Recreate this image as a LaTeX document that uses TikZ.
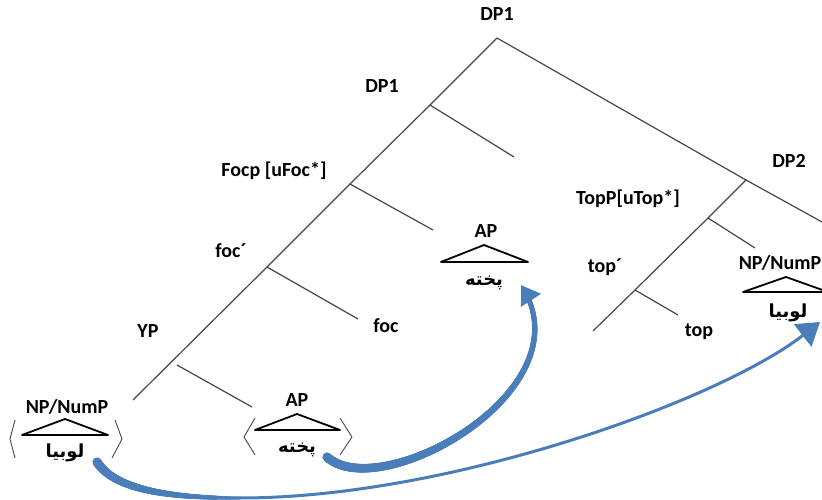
\documentclass[tikz,border=0pt]{standalone}
\usepackage{fontspec}
\setmainfont{Carlito}
\newfontfamily\farsi[Script=Arabic]{DejaVu Sans}
\TeXXeTstate=1
\usetikzlibrary{arrows.meta,decorations.markings}
\definecolor{movblue}{RGB}{74,126,187}
\definecolor{treegray}{RGB}{70,70,70}
\newcommand{\fw}[1]{{\farsi\bfseries\beginR #1\endR}}
\tikzset{taper/.style n args={3}{postaction={decorate,decoration={markings,
  mark=between positions 0 and #3 step 0.5bp with {%
  \pgfmathsetmacro\taprad{#1+(#2-#1)*\pgfkeysvalueof{/pgf/decoration/mark info/distance from start}/(#3*\pgfdecoratedpathlength)}%
  \fill[movblue] (0,0) circle[radius=\taprad bp];}}}},
  headtip/.style 2 args={postaction={decorate,decoration={markings,
  mark=at position 0.999 with {\fill[movblue] (0,0) -- (-#2,#1) -- (-#2,-#1) -- cycle;}}}}}

\begin{document}
\begin{tikzpicture}[line join=round]
 \tikzstyle{cat}=[font=\fontsize{20bp}{24bp}\selectfont\bfseries,inner sep=0pt,text height=13bp,text depth=4bp]
 \tikzstyle{word}=[font=\fontsize{18bp}{20bp}\selectfont,inner sep=0pt]
 \tikzstyle{branch}=[draw=treegray,line width=1.2bp]
 \tikzstyle{tri}=[draw=black,line width=1.8bp]
 \tikzstyle{brk}=[draw=treegray,line width=0.9bp]
 \tikzstyle{movement}=[draw=movblue]
 \clip (0,0) rectangle (822bp,500bp);

 % junctions of the tree
 \coordinate (root) at (497bp,462bp);
 \coordinate (redge) at (822bp,278bp);
 \coordinate (jdp) at (430bp,395bp);
 \coordinate (jdpe) at (514bp,343bp);
 \coordinate (jfoc) at (350bp,316bp);
 \coordinate (jfoce) at (433bp,270bp);
 \coordinate (jfbar) at (267bp,233bp);
 \coordinate (jfbare) at (358bp,181bp);
 \coordinate (jyp) at (177bp,135bp);
 \coordinate (jype) at (252bp,93bp);
 \coordinate (spinebot) at (133bp,100bp);
 \coordinate (dptwo) at (746bp,320bp);
 \coordinate (jtop) at (708bp,282bp);
 \coordinate (jtope) at (755bp,252bp);
 \coordinate (jtbar) at (635bp,210bp);
 \coordinate (jtbare) at (678bp,185bp);
 \coordinate (rbot) at (593bp,169bp);
 \coordinate (low) at (240bp,2bp);

 \node (DPa) at (497bp,484bp) [cat] {DP1};
 \node (DPb) at (382bp,412bp) [cat] {DP1};
 \node (FocP) at (274bp,328bp) [cat] {Focp [uFoc*]};
 \node (focbar) at (231bp,247bp) [cat] {foc´};
 \node (foc) at (386bp,172bp) [cat] {foc};
 \node (YP) at (148bp,167bp) [cat] {YP};
 \node (APhi) at (486bp,267bp) [cat] {AP};
 \node (pwhi) at (484bp,217bp) [word] {\fw{پخته}};
 \node (DPc) at (789bp,337bp) [cat] {DP2};
 \node (TopP) at (628bp,300bp) [cat] {TopP[uTop*]};
 \node (topbar) at (605bp,232bp) [cat] {top´};
 \node (top) at (699bp,168bp) [cat] {top};
 \node (NPhi) at (780bp,235bp) [cat] {NP/NumP};
 \node (lwhi) at (788bp,187bp) [word] {\fw{لوبیا}};
 \node (NPlo) at (67bp,91bp) [cat] {NP/NumP};
 \node (lwlo) at (65bp,47bp) [word] {\fw{لوبیا}};
 \node (APlo) at (297bp,98bp) [cat] {AP};
 \node (pwlo) at (297bp,50bp) [word] {\fw{پخته}};

 \draw[branch] (root) -- (dptwo) -- (redge);
 \draw[branch] (root) -- (jdp) -- (jfoc) -- (jfbar) -- (spinebot);
 \draw[branch] (jdp) -- (jdpe);
 \draw[branch] (jfoc) -- (jfoce);
 \draw[branch] (jfbar) -- (jfbare);
 \draw[branch] (jyp) -- (jype);
 \draw[branch] (dptwo) -- (jtop) -- (jtbar) -- (rbot);
 \draw[branch] (jtop) -- (jtope);
 \draw[branch] (jtbar) -- (jtbare);

 \draw[tri] (441bp,238bp) -- (484bp,255bp) -- (528bp,238bp) -- cycle;
 \draw[tri] (743bp,208bp) -- (786bp,223bp) -- (828bp,208bp) -- cycle;
 \draw[tri] (22bp,65bp) -- (65bp,81bp) -- (108bp,65bp) -- cycle;
 \draw[tri] (255bp,70bp) -- (297bp,86bp) -- (340bp,70bp) -- cycle;

 \draw[brk] (15bp,80bp) -- (10bp,61bp) -- (15bp,42bp);
 \draw[brk] (115bp,80bp) -- (122bp,61bp) -- (112bp,42bp);
 \draw[brk] (255bp,82bp) -- (244bp,63bp) -- (255bp,45bp);
 \draw[brk] (340bp,82bp) -- (352bp,63bp) -- (340bp,45bp);

 % movement arrows
 \path[taper={4.6}{2.4}{0.96},headtip={12bp}{18bp}]
   ([shift={(30bp,-7bp)}]pwlo.center) .. controls +(53bp,-48bp) and +(69bp,-105bp) .. ([shift={(37bp,-2bp)}]pwhi.center);
 \path[taper={4.6}{1.5}{1}]
   ([shift={(32bp,-9bp)}]lwlo.center) .. controls +(18bp,-28bp) and +(-70bp,0bp) .. (low);
 \draw[movement,line width=3bp,-{Triangle[width=28bp,length=22bp]}]
   (low) .. controls +(210bp,0bp) and +(-100bp,-78bp) .. ([shift={(32bp,-9bp)}]lwhi.center);

\end{tikzpicture}
\end{document}
